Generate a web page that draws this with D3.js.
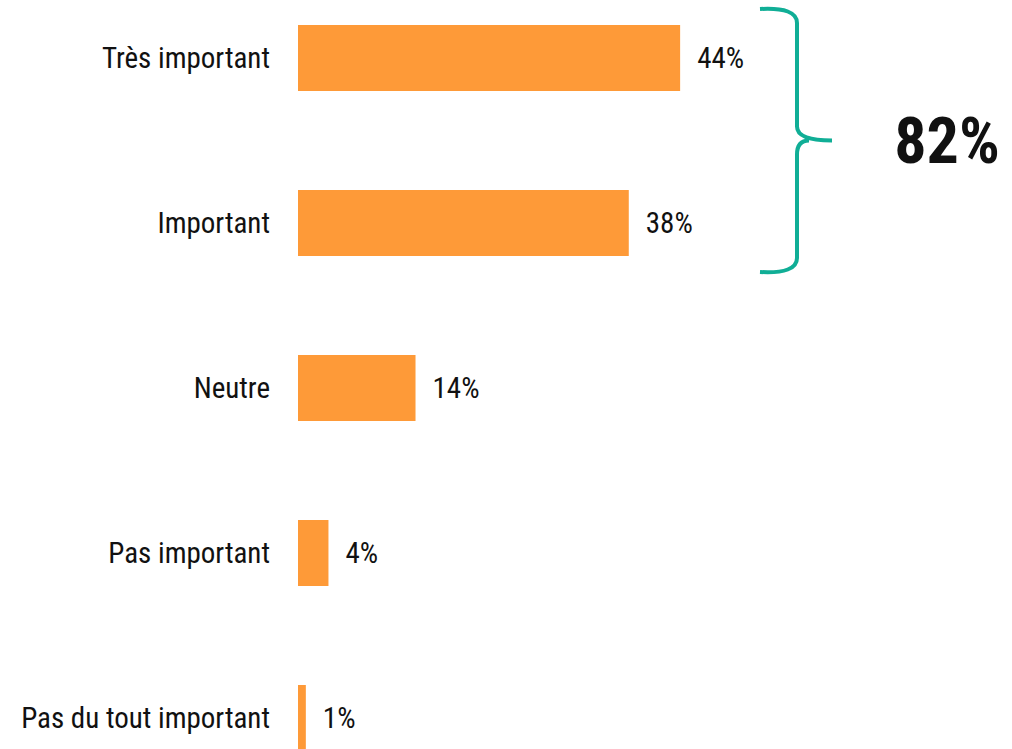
<!DOCTYPE html>
<html>
<head>
<meta charset="utf-8">
<script src="https://cdn.jsdelivr.net/npm/d3@7"></script>
<style>
  body { margin: 0; background: #fff; }
  text { font-family: "Roboto Condensed", "Liberation Sans Narrow", Roboto, sans-serif; fill: #111; }
</style>
</head>
<body>
<svg></svg>
<script>
const categories = ["Très important", "Important", "Neutre", "Pas important", "Pas du tout important"];
const values = [43.9, 38.0, 13.5, 3.5, 0.9];
const valueLabels = ["44%", "38%", "14%", "4%", "1%"];
const bracketTotal = "82%";

const width = 1012;
const height = 749;
const margin = { top: 0, left: 298 };
const barColor = "#fe9a38";
const braceColor = "#10ae96";

const svg = d3.select("svg").attr("width", width).attr("height", height);

// scales
const xScale = d3.scaleLinear().domain([0, 44]).range([0, 383]);
const yScale = d3
  .scaleBand()
  .domain(categories)
  .range([-24.5, 800.5])
  .paddingInner(0.6)
  .paddingOuter(0.3);

const g = svg.append("g").attr("transform", `translate(${margin.left},${margin.top})`);

g.selectAll("rect")
  .data(categories)
  .enter()
  .append("rect")
  .attr("x", 0)
  .attr("y", (d) => yScale(d))
  .attr("width", (d, i) => xScale(values[i]))
  .attr("height", yScale.bandwidth())
  .attr("fill", barColor);

// category labels
g.selectAll(".cat")
  .data(categories)
  .enter()
  .append("text")
  .attr("class", "cat")
  .attr("x", -28)
  .attr("y", (d) => yScale(d) + yScale.bandwidth() / 2)
  .attr("text-anchor", "end")
  .attr("dy", "0.35em")
  .attr("font-size", 29)
  .text((d) => d);

g.selectAll(".val")
  .data(categories)
  .enter()
  .append("text")
  .attr("class", "val")
  .attr("x", (d, i) => xScale(values[i]) + 17)
  .attr("y", (d) => yScale(d) + yScale.bandwidth() / 2)
  .attr("dy", "0.35em")
  .attr("font-size", 29)
  .text((d, i) => valueLabels[i]);

// curly brace around first two bars
const braceTop = yScale(categories[0]) - 16;
const braceBottom = yScale(categories[1]) + yScale.bandwidth() + 16;
const braceMid = (braceTop + braceBottom) / 2;
const bx = 797;
const path = d3.path();
path.moveTo(760, braceTop);
path.quadraticCurveTo(bx, braceTop - 2, bx, braceTop + 14);
path.lineTo(bx, braceMid - 14);
path.quadraticCurveTo(bx, braceMid, 832, braceMid);
path.moveTo(bx + 12, braceMid);
path.quadraticCurveTo(bx, braceMid, bx, braceMid + 14);
path.lineTo(bx, braceBottom - 14);
path.quadraticCurveTo(bx, braceBottom + 2, 760, braceBottom);

svg.append("path")
  .attr("d", path.toString())
  .attr("fill", "none")
  .attr("stroke", braceColor)
  .attr("stroke-width", 4);

svg.append("text")
  .attr("x", 947)
  .attr("y", braceMid)
  .attr("text-anchor", "middle")
  .attr("dy", "0.35em")
  .attr("font-size", 64)
  .attr("font-weight", "bold")
  .text(bracketTotal);
</script>
</body>
</html>
